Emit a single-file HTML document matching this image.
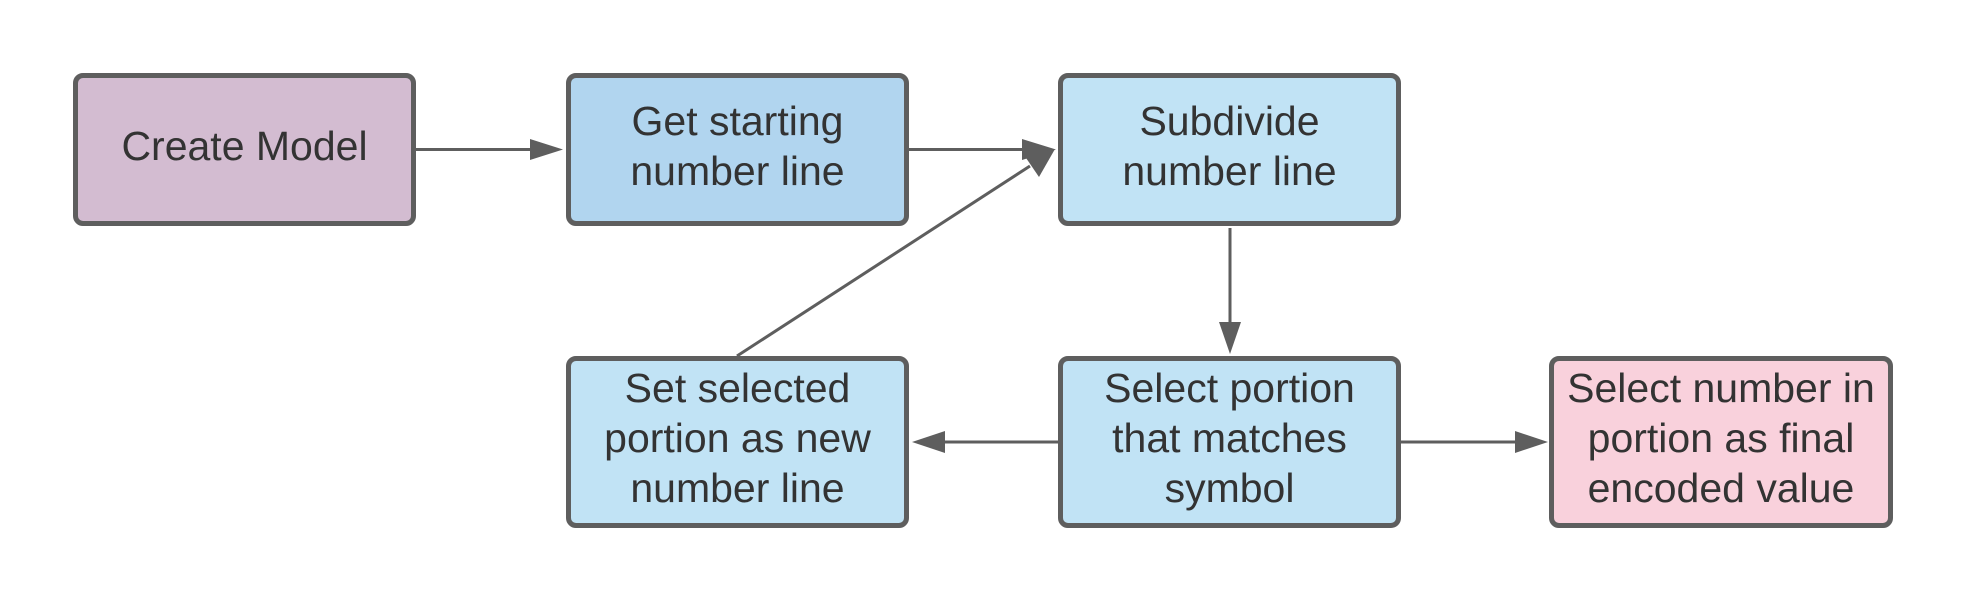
<!DOCTYPE html>
<html><head><meta charset="utf-8"><style>
body{margin:0;background:#fff;width:1971px;height:604px;overflow:hidden;font-family:"Liberation Sans",sans-serif}
.b{position:absolute;box-sizing:border-box;border:5px solid #5e5e5e;border-radius:10px;display:flex;align-items:center;justify-content:center;text-align:center;font-size:41px;line-height:50px;color:#333;padding-bottom:8px}
</style></head><body>
<svg width="1971" height="604" style="position:absolute;left:0;top:0">
<g stroke="#5e5e5e" stroke-width="3" fill="none">
<line x1="416" y1="149.5" x2="530" y2="149.5"/>
<line x1="909" y1="149.5" x2="1022" y2="149.5"/>
<line x1="737" y1="356" x2="1030" y2="166"/>
<line x1="1230" y1="228" x2="1230" y2="322"/>
<line x1="1058" y1="442" x2="945" y2="442"/>
<line x1="1401" y1="442" x2="1515" y2="442"/>
</g>
<g fill="#5e5e5e">
<path d="M530,139L563,149.5L530,160z"/>
<path d="M1022,139L1056,149.5L1022,160z"/>
<path d="M1055,149L1039,177L1024,155z"/>
<path d="M1219,322L1230,354L1241,322z"/>
<path d="M945,431L912,442L945,453z"/>
<path d="M1515,431L1548,442L1515,453z"/>
</g>
</svg>
<div class="b" style="left:73px;top:73px;width:343px;height:153px;background:#d3bcd1">Create Model</div>
<div class="b" style="left:566px;top:73px;width:343px;height:153px;background:#b1d5ef">Get starting<br>number line</div>
<div class="b" style="left:1058px;top:73px;width:343px;height:153px;background:#c1e3f5">Subdivide<br>number line</div>
<div class="b" style="left:566px;top:356px;width:343px;height:172px;background:#c1e3f5">Set selected<br>portion as new<br>number line</div>
<div class="b" style="left:1058px;top:356px;width:343px;height:172px;background:#c1e3f5">Select portion<br>that matches<br>symbol</div>
<div class="b" style="left:1549px;top:356px;width:344px;height:172px;background:#f9d1dc">Select number in<br>portion as final<br>encoded value</div>
</body></html>
